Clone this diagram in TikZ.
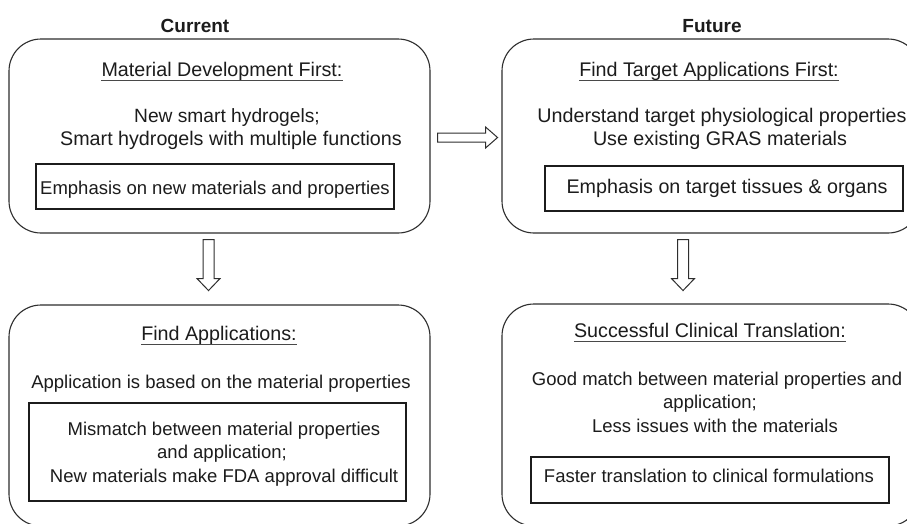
\documentclass[tikz,border=0pt]{standalone}
\usepackage{fontspec}
\setmainfont{Liberation Sans}
\usetikzlibrary{calc}
\definecolor{ink}{HTML}{1C1C1C}
\definecolor{edge}{HTML}{2E2E2E}
\tikzset{
  lbl/.style={font=\fontsize{18.5}{23}\selectfont, text=ink, inner sep=0pt, anchor=base},
  biglbl/.style={font=\fontsize{19.7}{23}\selectfont, text=ink, inner sep=0pt, anchor=base},
  hdr/.style={font=\fontsize{19}{23}\selectfont\bfseries, text=ink, inner sep=0pt, anchor=base},
  ttl/.style={biglbl},
  ulline/.style={draw=ink!80, line width=0.9pt},
  outerbox/.style={draw=edge, line width=1.1pt, rounded corners=32pt, inner sep=0pt},
  innerbox/.style={draw=ink, line width=2pt, inner sep=0pt},
  blockarrow/.style={draw=edge, line width=1pt, fill=white, line join=miter}
}
\begin{document}
\begin{tikzpicture}[x=1pt,y=-1pt]
\useasboundingbox[fill=white] (0,0) rectangle (907,523);

% headers
\node[hdr] (cur) at (195,32) {Current};
\node[hdr] (fut) at (712,32) {Future};

% outer boxes
\node[outerbox, minimum width=421pt, minimum height=194pt] (A) at (219.5,136) {};
\node[outerbox, minimum width=418pt, minimum height=194pt] (B) at (711,136) {};
\node[outerbox, minimum width=421pt, minimum height=221pt] (C) at (219.5,415.5) {};
\node[outerbox, minimum width=418pt, minimum height=222pt] (D) at (711,415) {};

% inner emphasis boxes
\node[innerbox, minimum width=358pt, minimum height=45pt] (Ae) at (215,186.5) {};
\node[innerbox, minimum width=358pt, minimum height=45pt] (Be) at (724,188.5) {};
\node[innerbox, minimum width=377pt, minimum height=98pt] (Ce) at (217.5,452) {};
\node[innerbox, minimum width=358pt, minimum height=46pt] (De) at (710,480) {};

% box A text
\node[ttl] (At) at (222,76) {Material Development First:};
\node[biglbl, font=\fontsize{19.2}{23}\selectfont] (A1) at (227,122) {New smart hydrogels;};
\node[biglbl] (A2) at (231,145) {Smart hydrogels with multiple functions};
\node[lbl] (Aet) at (215,194) {Emphasis on new materials and properties};

% box B text
\node[ttl] (Bt) at (709,76) {Find Target Applications First:};
\node[biglbl] (B1) at (722,122) {Understand target physiological properties};
\node[biglbl] (B2) at (720,145) {Use existing GRAS materials};
\node[biglbl] (Bet) at (727,193) {Emphasis on target tissues \& organs};

% box C text
\node[ttl] (Ct) at (219,340) {Find Applications:};
\node[lbl] (C1) at (221,388) {Application is based on the material properties};
\node[lbl] (C2) at (224,435) {Mismatch between material properties};
\node[lbl] (C3) at (222,458) {and application;};
\node[lbl] (C4) at (224,482) {New materials make FDA approval difficult};

% box D text
\node[ttl] (Dt) at (710,337) {Successful Clinical Translation:};
\node[lbl] (D1) at (717,385) {Good match between material properties and};
\node[lbl] (D2) at (710,408) {application;};
\node[lbl] (D3) at (715,432) {Less issues with the materials};
\node[lbl] (Det) at (709,482) {Faster translation to clinical formulations};

% underlines
\foreach \n in {At,Bt,Ct,Dt}
  \draw[ulline] ([yshift=-4pt]\n.base west) -- ([yshift=-4pt]\n.base east);

% hollow block arrows
\draw[blockarrow] ($(A.east)+(7,1.5)$) ++(0,-4.5) -- ++(48,0) -- ++(0,-6)
  -- ++(12,10.5) -- ++(-12,10.5) -- ++(0,-6) -- ++(-48,0) -- cycle;
\draw[blockarrow] ($(A.south)+(-11,6)$) ++(-5.5,0) -- ++(0,39) -- ++(-6,0)
  -- ++(11.5,12) -- ++(11.5,-12) -- ++(-6,0) -- ++(0,-39) -- cycle;
\draw[blockarrow] ($(B.south)+(-28,6)$) ++(-5.5,0) -- ++(0,39) -- ++(-6,0)
  -- ++(11.5,12) -- ++(11.5,-12) -- ++(-6,0) -- ++(0,-39) -- cycle;
\end{tikzpicture}
\end{document}
